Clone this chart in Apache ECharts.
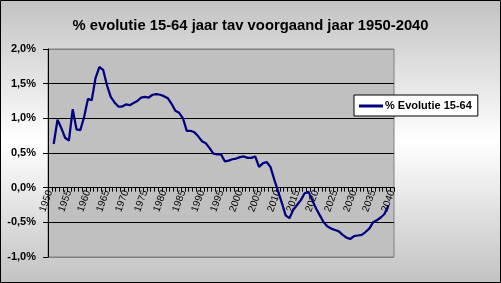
<!DOCTYPE html>
<html>
<head>
<meta charset="utf-8">
<script src="https://cdn.jsdelivr.net/npm/echarts@6/dist/echarts.min.js"></script>
<style>
html,body{margin:0;padding:0;}
#c{width:501px;height:283px;background:linear-gradient(to bottom,#c2c2c2 0%,#ffffff 50%,#c2c2c2 100%);}
</style>
</head>
<body>
<div id="c"></div>
<script>
// categories: years 1950-2040
var firstYear = 1950, lastYear = 2040;
var years = [];
for (var y = firstYear; y <= lastYear; y++) years.push(String(y));

// % evolution vs previous year, 1951..2039
var evolutie = [
  0.63, 0.98, 0.86, 0.72, 0.68, 1.13, 0.84, 0.83, 1.02, 1.28,
  1.26, 1.58, 1.74, 1.70, 1.48, 1.31, 1.23, 1.17, 1.17, 1.20,
  1.19, 1.22, 1.25, 1.30, 1.31, 1.30, 1.34, 1.35, 1.34, 1.32,
  1.29, 1.21, 1.11, 1.08, 1.00, 0.82, 0.82, 0.80, 0.74, 0.67,
  0.64, 0.57, 0.49, 0.48, 0.48, 0.38, 0.39, 0.41, 0.42, 0.44,
  0.45, 0.43, 0.43, 0.45, 0.30, 0.35, 0.37, 0.30, 0.12, -0.05,
  -0.22, -0.40, -0.44, -0.32, -0.25, -0.18, -0.08, -0.06, -0.18, -0.30,
  -0.40, -0.50, -0.56, -0.59, -0.61, -0.63, -0.68, -0.72, -0.74, -0.70,
  -0.69, -0.68, -0.64, -0.59, -0.50, -0.47, -0.43, -0.38, -0.26
];
var dataStartYear = 1951;

var yMin = -1.0, yMax = 2.0, yStep = 0.5;
var titleText = '% evolutie 15-64 jaar tav voorgaand jaar 1950-2040';
var seriesName = '% Evolutie 15-64';

var seriesData = years.map(function (yr) {
  var i = Number(yr) - dataStartYear;
  return (i >= 0 && i < evolutie.length) ? evolutie[i] : null;
});

var FONT = '"Liberation Sans", Arial, sans-serif';
var gridTop = 49, gridBottom = 26, chartH = 283;
var gridH = chartH - gridTop - gridBottom;
// place the category axis on the value 0 line
var zeroOffset = -gridH * (0 - yMin) / (yMax - yMin);

var chart = echarts.init(document.getElementById('c'), null, {renderer: 'canvas'});
chart.setOption({
  animation: false,
  backgroundColor: 'transparent',
  textStyle: {fontFamily: FONT},
  title: {
    text: titleText,
    left: 'center',
    top: 13,
    textStyle: {fontFamily: FONT, fontSize: 14.8, fontWeight: 'bold', color: '#000'}
  },
  legend: {
    left: 354, top: 95,
    orient: 'vertical',
    backgroundColor: '#ffffff',
    borderColor: '#000', borderWidth: 1,
    padding: [5, 6, 4, 5],
    itemWidth: 24, itemHeight: 3, itemGap: 0,
    textStyle: {fontFamily: FONT, fontSize: 11, fontWeight: 'bold', color: '#000', padding: [0, 0, 0, -3], height: 12, lineHeight: 12},
    data: [{name: seriesName, icon: 'rect'}]
  },
  grid: {
    left: 48, top: gridTop, right: 107, bottom: gridBottom,
    show: true, backgroundColor: '#c0c0c0', borderColor: '#808080', borderWidth: 1,
    containLabel: false, outerBoundsMode: 'none'
  },
  xAxis: {
    type: 'category',
    data: years,
    boundaryGap: true,
    position: 'bottom',
    offset: zeroOffset,
    axisLine: {show: true, onZero: false, lineStyle: {color: '#000', width: 1}},
    axisTick: {show: true, interval: 0, length: 4, lineStyle: {color: '#000', width: 1}},
    axisLabel: {interval: 4, rotate: 70, margin: 3, fontSize: 10, color: '#000', fontFamily: FONT, hideOverlap: false},
    splitLine: {show: false}
  },
  yAxis: {
    type: 'value',
    min: yMin, max: yMax, interval: yStep,
    axisLine: {show: true, lineStyle: {color: '#000', width: 1}},
    axisTick: {show: true, length: 5, lineStyle: {color: '#000'}},
    axisLabel: {
      margin: 12, fontSize: 11, fontWeight: 'bold', color: '#000', fontFamily: FONT,
      formatter: function (v) { return v.toFixed(1).replace('.', ',') + '%'; }
    },
    splitLine: {show: true, lineStyle: {color: ['#808080', '#000', '#000', '#000', '#000', '#000', '#808080'], width: 1}}
  },
  series: [{
    name: seriesName,
    type: 'line',
    data: seriesData,
    symbol: 'none',
    showSymbol: false,
    lineStyle: {color: '#000080', width: 2.25},
    itemStyle: {color: '#000080'},
    z: 5
  }],
  graphic: [{
    type: 'rect',
    shape: {x: 0.5, y: 0.5, width: 500, height: 282},
    style: {fill: 'none', stroke: '#000', lineWidth: 1},
    silent: true, z: 100
  }]
});
</script>
</body>
</html>
